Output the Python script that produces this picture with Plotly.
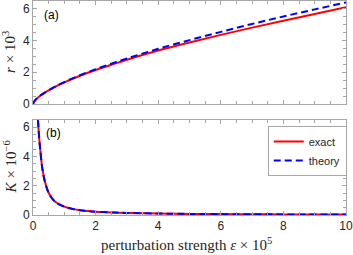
import plotly.graph_objects as go

# --- data ---
eps_r = [0, 0.05, 0.1, 0.2, 0.3, 0.5, 0.75, 1, 1.5, 2, 2.5, 3, 4, 5, 6, 7, 8, 9, 10]
r_exact = [0, 0.187, 0.297, 0.47, 0.615, 0.86, 1.13, 1.36, 1.78, 2.14, 2.47, 2.79, 3.37, 3.88, 4.36, 4.82, 5.25, 5.68, 6.10]
r_theory = [0, 0.187, 0.297, 0.472, 0.618, 0.869, 1.14, 1.38, 1.81, 2.19, 2.54, 2.87, 3.48, 4.03, 4.55, 5.05, 5.52, 5.97, 6.41]

eps_k = [0.12, 0.15, 0.2, 0.23, 0.3, 0.39, 0.52, 0.71, 1.0, 1.5, 2, 2.6, 3, 4, 5, 6, 7, 8, 9, 10]
k_exact = [9.5, 6.9, 5.2, 4.5, 3.15, 2.2, 1.43, 0.9, 0.57, 0.32, 0.23, 0.17, 0.14, 0.10, 0.075, 0.06, 0.05, 0.042, 0.036, 0.03]
k_theory = [9.5, 6.9, 5.2, 4.5, 3.15, 2.2, 1.43, 0.9, 0.57, 0.32, 0.23, 0.17, 0.14, 0.10, 0.075, 0.06, 0.05, 0.042, 0.036, 0.03]

x_ticks = [0, 2, 4, 6, 8, 10]
y_ticks = [0, 2, 4, 6]

RED = "#ff0000"
BLUE = "#0000ff"
SERIF = "Liberation Serif, DejaVu Serif, serif"
SANS = "Liberation Sans, Arial, sans-serif"
GRID = "#a6a6a6"
TXT = "#262626"

fig = go.Figure()
fig.add_trace(go.Scatter(x=eps_r, y=r_exact, mode="lines", line=dict(color=RED, width=2, shape="spline"),
                         xaxis="x", yaxis="y", showlegend=False))
fig.add_trace(go.Scatter(x=eps_r, y=r_theory, mode="lines", line=dict(color=BLUE, width=2, dash="7px,4px", shape="spline"),
                         xaxis="x", yaxis="y", showlegend=False))
fig.add_trace(go.Scatter(x=eps_k, y=k_exact, mode="lines", name="exact", line=dict(color=RED, width=2, shape="spline"),
                         xaxis="x2", yaxis="y2"))
fig.add_trace(go.Scatter(x=eps_k, y=k_theory, mode="lines", name="theory", line=dict(color=BLUE, width=2, dash="7px,4px", shape="spline"),
                         xaxis="x2", yaxis="y2"))

minor = dict(dtick=0.5, ticks="inside", ticklen=3, tickcolor=GRID)
axis_common = dict(showline=True, linecolor=GRID, linewidth=1, mirror="ticks", automargin=False,
                   ticks="inside", ticklen=4, tickcolor=GRID, showgrid=False, zeroline=False,
                   tickfont=dict(family=SANS, size=12, color=TXT), minor=minor)

fig.update_layout(
    width=353, height=255,
    margin=dict(l=33, r=7, t=1, b=40),
    plot_bgcolor="white", paper_bgcolor="white",
    xaxis=dict(domain=[0, 1], range=[0, 10], anchor="y", tickvals=x_ticks, showticklabels=False, **axis_common),
    yaxis=dict(domain=[0.519, 1], range=[0, 6.5], anchor="x", tickvals=y_ticks, **axis_common),
    xaxis2=dict(domain=[0, 1], range=[0, 10], anchor="y2", tickvals=x_ticks, **axis_common),
    yaxis2=dict(domain=[0, 0.444], range=[0, 6.5], anchor="x2", tickvals=y_ticks, **axis_common),
    legend=dict(x=0.75, y=0.416, xanchor="left", yanchor="top", bgcolor="white",
                bordercolor=GRID, borderwidth=1, font=dict(family=SANS, size=11, color=TXT),
                itemwidth=30, tracegroupgap=0),
    annotations=[
        dict(text="(a)", xref="x domain", yref="y domain", x=0.03, y=0.86, xanchor="left", yanchor="middle",
             showarrow=False, font=dict(family=SANS, size=12, color="#000")),
        dict(text="(b)", xref="x2 domain", yref="y2 domain", x=0.035, y=0.86, xanchor="left", yanchor="middle",
             showarrow=False, font=dict(family=SANS, size=12, color="#000")),
        dict(text="<i>r</i> × 10<sup>3</sup>", xref="paper", yref="paper", x=-0.075, y=0.76,
             xanchor="center", yanchor="middle", textangle=-90, showarrow=False,
             font=dict(family=SERIF, size=15, color=TXT)),
        dict(text="<i>K</i> × 10<sup>−6</sup>", xref="paper", yref="paper", x=-0.075, y=0.225,
             xanchor="center", yanchor="middle", textangle=-90, showarrow=False,
             font=dict(family=SERIF, size=15, color=TXT)),
        dict(text="perturbation strength <i>ε</i> × 10<sup>5</sup>", xref="paper", yref="paper", x=0.49, y=-0.135,
             xanchor="center", yanchor="middle", showarrow=False,
             font=dict(family=SERIF, size=15, color=TXT)),
    ],
)

fig.write_html("out.html", config={"displayModeBar": False},
               post_script="document.body.style.margin='0';document.body.style.overflow='hidden';")
